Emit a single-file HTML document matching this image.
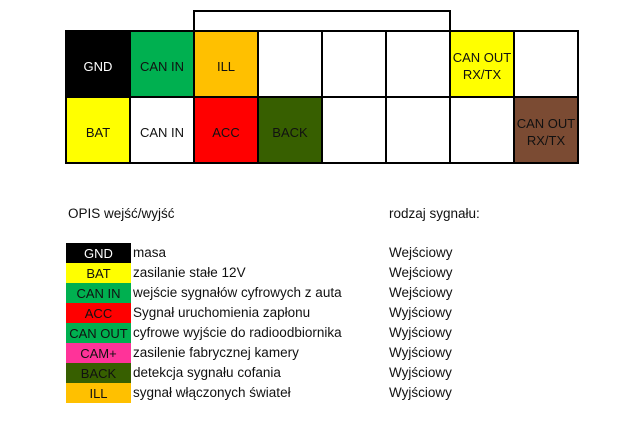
<!DOCTYPE html>
<html><head><meta charset="utf-8"><style>
body{margin:0;width:621px;height:437px;background:#fff;position:relative;overflow:hidden;font-family:"Liberation Sans",sans-serif;font-size:13.5px;color:#111}
.c{position:absolute;display:flex;align-items:center;justify-content:center;text-align:center;line-height:17px;box-sizing:border-box;font-size:13px;width:64px}
.t{position:absolute;white-space:nowrap;line-height:16px}
.l{position:absolute;left:66px;width:65px;height:20px;display:flex;align-items:center;justify-content:center;font-size:13px}
</style></head><body>
<div style="position:absolute;left:193px;top:10px;width:258px;height:23px;border:2px solid #000;border-bottom:none;box-sizing:border-box"></div>
<svg style="position:absolute;left:0;top:0" width="621" height="170">
<rect x="66" y="31" width="64" height="66" fill="#000"/>
<rect x="130" y="31" width="64" height="66" fill="#00b050"/>
<rect x="194" y="31" width="64" height="66" fill="#ffc000"/>
<rect x="450" y="31" width="64" height="66" fill="#ffff00"/>
<rect x="66" y="97" width="64" height="66" fill="#ffff00"/>
<rect x="194" y="97" width="64" height="66" fill="#ff0000"/>
<rect x="258" y="97" width="64" height="66" fill="#375f00"/>
<rect x="514" y="97" width="64" height="66" fill="#7b4b33"/>
<g stroke="#000" stroke-width="2" fill="none">
<rect x="66" y="31" width="512" height="132"/>
<line x1="66" y1="97" x2="578" y2="97"/>
<line x1="130" y1="31" x2="130" y2="163"/><line x1="194" y1="31" x2="194" y2="163"/>
<line x1="258" y1="31" x2="258" y2="163"/><line x1="322" y1="31" x2="322" y2="163"/>
<line x1="386" y1="31" x2="386" y2="163"/><line x1="450" y1="31" x2="450" y2="163"/>
<line x1="514" y1="31" x2="514" y2="163"/>
</g></svg>
<div class="c" style="left:66px;top:33px;height:66px;color:#fff">GND</div>
<div class="c" style="left:130px;top:33px;height:66px">CAN IN</div>
<div class="c" style="left:194px;top:33px;height:66px">ILL</div>
<div class="c" style="left:450px;top:33px;height:66px">CAN OUT<br>RX/TX</div>
<div class="c" style="left:66px;top:99px;height:66px">BAT</div>
<div class="c" style="left:130px;top:99px;height:66px">CAN IN</div>
<div class="c" style="left:194px;top:99px;height:66px">ACC</div>
<div class="c" style="left:258px;top:99px;height:66px">BACK</div>
<div class="c" style="left:514px;top:99px;height:66px">CAN OUT<br>RX/TX</div>
<div class="t" style="left:68px;top:206px">OPIS wejść/wyjść</div>
<div class="t" style="left:389px;top:206px">rodzaj sygnału:</div>
<div class="l" style="top:243px;background:#000;color:#fff">GND</div>
<div class="l" style="top:263px;background:#ffff00">BAT</div>
<div class="l" style="top:283px;background:#00b050">CAN IN</div>
<div class="l" style="top:303px;background:#ff0000">ACC</div>
<div class="l" style="top:323px;background:#00b050">CAN OUT</div>
<div class="l" style="top:343px;background:#ff3399">CAM+</div>
<div class="l" style="top:363px;background:#375f00">BACK</div>
<div class="l" style="top:383px;background:#ffc000">ILL</div>
<div class="t" style="left:133px;top:245px">masa</div>
<div class="t" style="left:133px;top:265px">zasilanie stałe 12V</div>
<div class="t" style="left:133px;top:285px">wejście sygnałów cyfrowych z auta</div>
<div class="t" style="left:133px;top:305px">Sygnał uruchomienia zapłonu</div>
<div class="t" style="left:133px;top:325px">cyfrowe wyjście do radioodbiornika</div>
<div class="t" style="left:133px;top:345px">zasilenie fabrycznej kamery</div>
<div class="t" style="left:133px;top:365px">detekcja sygnału cofania</div>
<div class="t" style="left:133px;top:385px">sygnał włączonych świateł</div>
<div class="t" style="left:389px;top:245px">Wejściowy</div>
<div class="t" style="left:389px;top:265px">Wejściowy</div>
<div class="t" style="left:389px;top:285px">Wejściowy</div>
<div class="t" style="left:389px;top:305px">Wyjściowy</div>
<div class="t" style="left:389px;top:325px">Wyjściowy</div>
<div class="t" style="left:389px;top:345px">Wyjściowy</div>
<div class="t" style="left:389px;top:365px">Wyjściowy</div>
<div class="t" style="left:389px;top:385px">Wyjściowy</div>
</body></html>
